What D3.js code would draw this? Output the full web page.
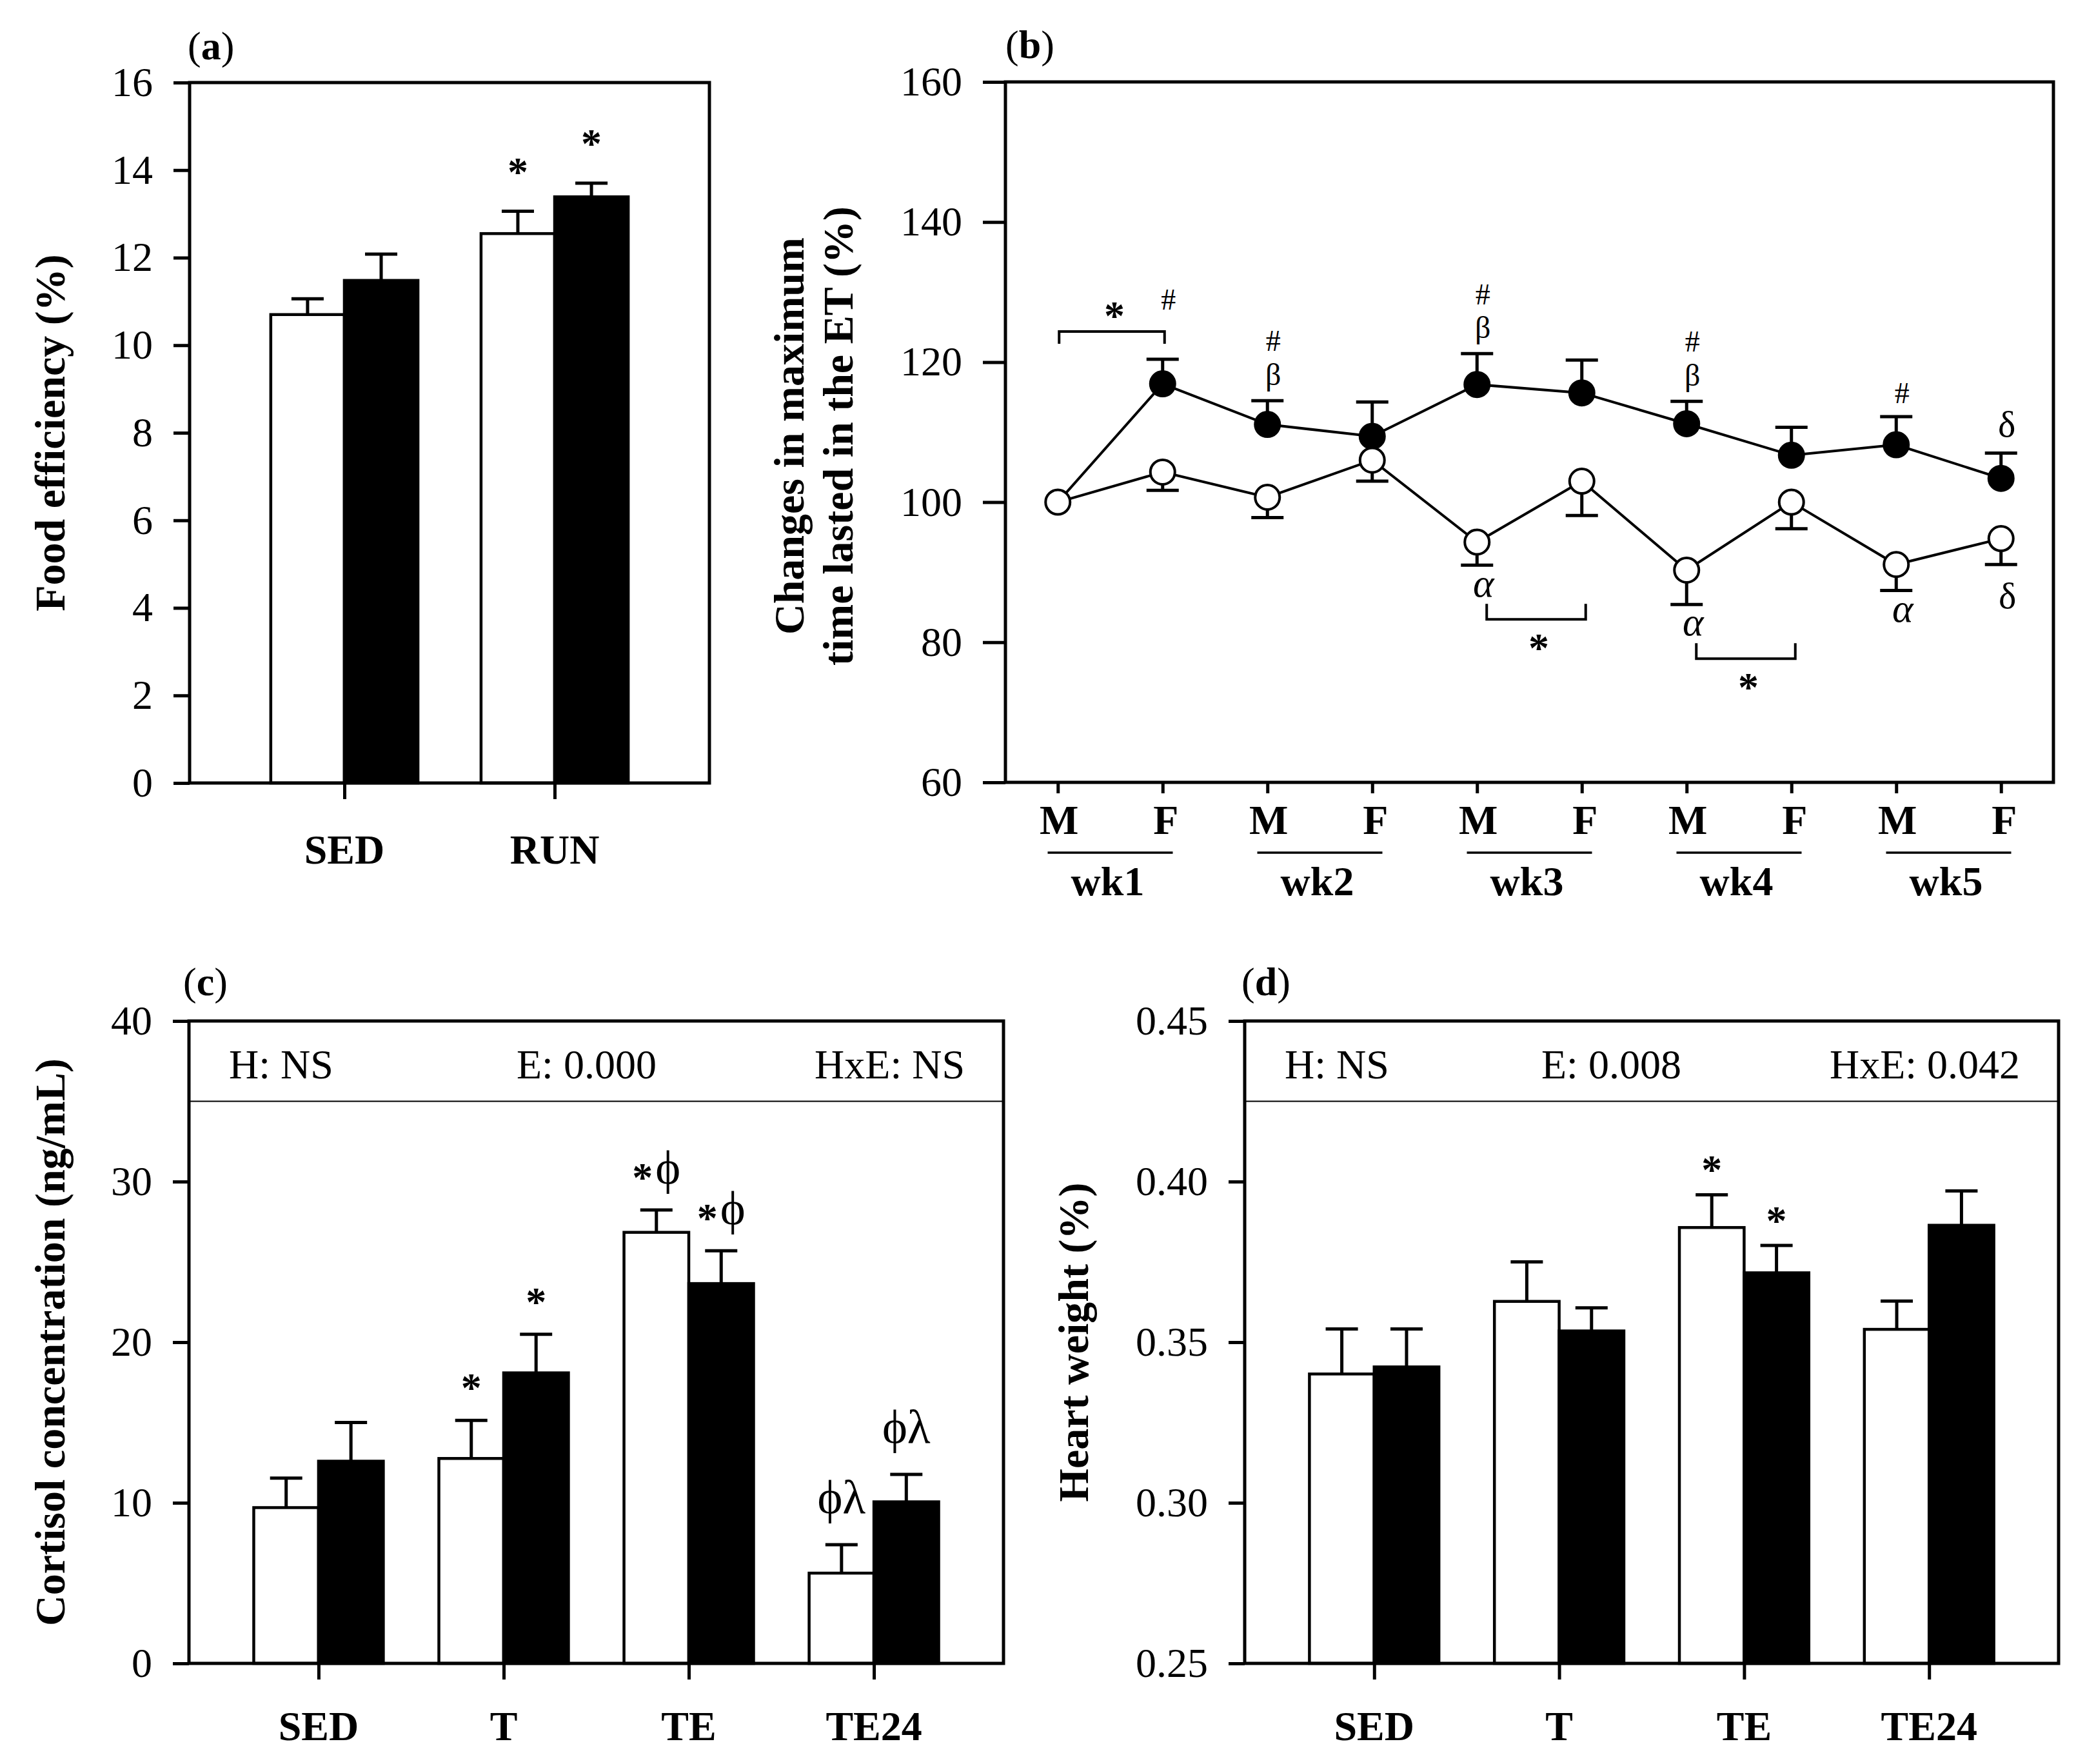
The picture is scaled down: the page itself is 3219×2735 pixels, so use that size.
<!DOCTYPE html>
<html>
<head>
<meta charset="utf-8">
<script src="https://cdn.jsdelivr.net/npm/d3@7"></script>
<style>
html, body { margin: 0; padding: 0; background: #fff; }
svg text { font-family: "Liberation Serif", "Times New Roman", serif; fill: #000; }
</style>
</head>
<body>
<svg id="chart" width="3219" height="2735" xmlns="http://www.w3.org/2000/svg"></svg>
<script>
// ---------------- DATA ----------------
// Panel (a) Food efficiency
const aCategories = ["SED", "RUN"];
const aWhite = [10.70, 12.55];
const aWhiteErr = [0.36, 0.51];
const aBlack = [11.48, 13.39];
const aBlackErr = [0.60, 0.31];
const aTicks = [0, 2, 4, 6, 8, 10, 12, 14, 16];
const aSignif = [
  { cat: "RUN", series: "white", text: "*" },
  { cat: "RUN", series: "black", text: "*" }
];

// Panel (b) Changes in maximum time lasted in the ET
const bTimepoints = ["M", "F", "M", "F", "M", "F", "M", "F", "M", "F"];
const bWeeks = ["wk1", "wk2", "wk3", "wk4", "wk5"];
const bOpen = [100.0, 104.3, 100.7, 106.0, 94.3, 103.0, 90.3, 100.0, 91.1, 94.8];
const bOpenErr = [0, 2.6, 2.9, 3.0, 3.3, 4.9, 4.9, 3.8, 3.7, 3.7];
const bFilled = [100.0, 116.9, 111.1, 109.4, 116.8, 115.6, 111.2, 106.7, 108.2, 103.4];
const bFilledErr = [0, 3.5, 3.4, 4.9, 4.4, 4.7, 3.2, 4.0, 4.0, 3.6];
const bTicks = [60, 80, 100, 120, 140, 160];
const bAboveMarks = [
  { i: 1, text: "#", slot: 2 },
  { i: 2, text: "β", slot: 1 }, { i: 2, text: "#", slot: 2 },
  { i: 4, text: "β", slot: 1 }, { i: 4, text: "#", slot: 2 },
  { i: 6, text: "β", slot: 1 }, { i: 6, text: "#", slot: 2 },
  { i: 8, text: "#", slot: 1 },
  { i: 9, text: "δ", slot: 1 }
];
const bBelowMarks = [
  { i: 4, text: "α" }, { i: 6, text: "α" }, { i: 8, text: "α" }, { i: 9, text: "δ" }
];
const bBrackets = [
  { from: 0, to: 1, side: "above", text: "*" },
  { from: 4, to: 5, side: "below", text: "*" },
  { from: 6, to: 7, side: "below", text: "*" }
];

// Panel (c) Cortisol concentration
const cCategories = ["SED", "T", "TE", "TE24"];
const cWhite = [9.70, 12.76, 26.84, 5.62];
const cWhiteErr = [1.84, 2.37, 1.39, 1.77];
const cBlack = [12.59, 18.09, 23.65, 10.06];
const cBlackErr = [2.41, 2.40, 2.04, 1.71];
const cTicks = [0, 10, 20, 30, 40];
const cStats = ["H: NS", "E: 0.000", "HxE: NS"];
const cSignif = [
  { cat: "T", series: "white", text: "*" },
  { cat: "T", series: "black", text: "*" },
  { cat: "TE", series: "white", text: "*ϕ" },
  { cat: "TE", series: "black", text: "*ϕ" },
  { cat: "TE24", series: "white", text: "ϕλ" },
  { cat: "TE24", series: "black", text: "ϕλ" }
];

// Panel (d) Heart weight
const dCategories = ["SED", "T", "TE", "TE24"];
const dWhite = [0.3401, 0.3627, 0.3857, 0.3540];
const dWhiteErr = [0.0140, 0.0123, 0.0102, 0.0088];
const dBlack = [0.3423, 0.3535, 0.3716, 0.3864];
const dBlackErr = [0.0118, 0.0072, 0.0085, 0.0107];
const dTicks = [0.25, 0.30, 0.35, 0.40, 0.45];
const dStats = ["H: NS", "E: 0.008", "HxE: 0.042"];
const dSignif = [
  { cat: "TE", series: "white", text: "*" },
  { cat: "TE", series: "black", text: "*" }
];

// ---------------- DRAWING ----------------
const FONT = '"Liberation Serif", "Times New Roman", serif';
const SW = 5;
const STAR = 64;
const svg = d3.select("#chart");
svg.append("rect").attr("width", 3219).attr("height", 2735).attr("fill", "#fff");

// visual-centre offsets (fraction of em above baseline)
const K = { "*": 0.47, "#": 0.33, "α": 0.23, "β": 0.24, "δ": 0.35, "ϕ": 0.24, "λ": 0.35 };

function mark(g, cx, cy, text, size, opts = {}) {
  const chars = Array.from(text);
  const others = chars.filter(c => c !== "*");
  const onlyStar = !others.length;
  const fs = onlyStar ? STAR : size;
  let kBase;
  if (onlyStar) kBase = K["*"];
  else if (others.includes("ϕ") || others.includes("β")) kBase = 0.24;
  else kBase = Math.max(...others.map(c => K[c] ?? 0.33));
  const t = g.append("text")
    .attr("x", cx).attr("y", cy + kBase * fs)
    .attr("text-anchor", "middle")
    .attr("font-family", FONT)
    .attr("font-size", fs);
  if (opts.italic) t.attr("font-style", "italic");
  let shift = 0;
  chars.forEach(c => {
    const ts = t.append("tspan").text(c);
    if (c === "*") {
      const d = onlyStar ? 0 : (K["*"] * STAR - kBase * fs);
      if (d - shift !== 0) ts.attr("dy", d - shift);
      ts.attr("font-weight", "bold").attr("font-size", STAR);
      shift = d;
    } else if (shift !== 0) {
      ts.attr("dy", -shift).attr("dx", 4);
      shift = 0;
    }
  });
  return t;
}

function panelLabel(x, y, letter) {
  const t = svg.append("text").attr("x", x).attr("y", y)
    .attr("font-family", FONT).attr("font-size", 62);
  t.append("tspan").text("(");
  t.append("tspan").attr("font-weight", "bold").text(letter);
  t.append("tspan").text(")");
}

function yTitle(x, cy, lines, size) {
  lines.forEach((ln, k) => {
    svg.append("text")
      .attr("transform", `translate(${x + k * 76},${cy}) rotate(-90)`)
      .attr("text-anchor", "middle")
      .attr("dominant-baseline", "central")
      .attr("font-family", FONT)
      .attr("font-weight", "bold")
      .attr("font-size", size)
      .text(ln);
  });
}

function styleAxis(ax, fontSize) {
  ax.select(".domain").remove();
  ax.selectAll(".tick line").attr("stroke", "#000").attr("stroke-width", SW);
  ax.selectAll(".tick text")
    .attr("font-family", FONT).attr("font-size", fontSize).attr("fill", "#000");
}

function barPanel(cfg) {
  const f = cfg.frame;
  const g = svg.append("g");
  const x = d3.scalePoint().domain(cfg.categories).range([f.l, f.r]).padding(cfg.padding);
  const y = d3.scaleLinear().domain(cfg.domain).range([f.b, f.t]);
  const bw = x.step() * 0.35;

  // header band
  if (cfg.stats) {
    g.append("line").attr("x1", f.l).attr("x2", f.r)
      .attr("y1", y(cfg.headerValue)).attr("y2", y(cfg.headerValue))
      .attr("stroke", "#000").attr("stroke-width", 2.2);
    const anchors = ["start", "start", "end"];
    const xs = [f.l + 62, f.l + cfg.midOffset, f.r - 60];
    cfg.stats.forEach((s, k) => {
      g.append("text").attr("x", xs[k]).attr("y", f.t + 89)
        .attr("text-anchor", anchors[k])
        .attr("font-family", FONT).attr("font-size", 64).text(s);
    });
  }

  // bars
  const series = [
    { key: "white", vals: cfg.white, errs: cfg.whiteErr, dx: -bw, fill: "#fff" },
    { key: "black", vals: cfg.black, errs: cfg.blackErr, dx: 0, fill: "#000" }
  ];
  series.forEach(s => {
    g.selectAll(null).data(cfg.categories).enter().append("rect")
      .attr("x", d => x(d) + s.dx)
      .attr("y", (d, i) => y(s.vals[i]))
      .attr("width", bw)
      .attr("height", (d, i) => f.b - y(s.vals[i]))
      .attr("fill", s.fill).attr("stroke", "#000").attr("stroke-width", 4.5);
    // error bars (upward)
    g.selectAll(null).data(cfg.categories).enter().append("path")
      .attr("d", (d, i) => {
        const cx = x(d) + s.dx + bw / 2;
        const y0 = y(s.vals[i]), y1 = y(s.vals[i] + s.errs[i]);
        return `M${cx},${y0}V${y1}M${cx - 25},${y1}H${cx + 25}`;
      })
      .attr("fill", "none").attr("stroke", "#000").attr("stroke-width", SW);
  });

  // frame
  g.append("rect").attr("x", f.l).attr("y", f.t).attr("width", f.r - f.l).attr("height", f.b - f.t)
    .attr("fill", "none").attr("stroke", "#000").attr("stroke-width", SW);

  // axes
  const ya = g.append("g").attr("transform", `translate(${f.l},0)`)
    .call(d3.axisLeft(y).tickValues(cfg.ticks).tickSize(25).tickPadding(32).tickFormat(cfg.fmt));
  styleAxis(ya, 64);
  const xa = g.append("g").attr("transform", `translate(0,${f.b})`)
    .call(d3.axisBottom(x).tickSize(25).tickFormat(""));
  styleAxis(xa, 64);
  g.selectAll(null).data(cfg.categories).enter().append("text")
    .attr("x", d => x(d)).attr("y", f.b + cfg.labelDrop)
    .attr("text-anchor", "middle")
    .attr("font-family", FONT).attr("font-weight", "bold").attr("font-size", 64)
    .text(d => d);

  // significance marks
  cfg.signif.forEach(m => {
    const i = cfg.categories.indexOf(m.cat);
    const s = m.series === "white" ? series[0] : series[1];
    const cx = x(m.cat) + s.dx + bw / 2;
    const top = y(s.vals[i] + s.errs[i]);
    const off = m.text.includes("λ") ? cfg.annotOffset + 8 : cfg.annotOffset;
    mark(g, cx, top - off, m.text, 74);
  });

  yTitle(cfg.titleX, (f.t + f.b) / 2, cfg.title, 66);
}

// ---- Panel (a)
barPanel({
  frame: { l: 294, r: 1100, t: 128, b: 1214 },
  categories: aCategories, white: aWhite, whiteErr: aWhiteErr, black: aBlack, blackErr: aBlackErr,
  domain: [0, 16], ticks: aTicks, fmt: d3.format("d"), padding: 0.736,
  labelDrop: 125, signif: aSignif, annotOffset: 70,
  title: ["Food efficiency (%)"], titleX: 77
});
panelLabel(291, 92, "a");

// ---- Panel (c)
barPanel({
  frame: { l: 293, r: 1556, t: 1583, b: 2579 },
  categories: cCategories, white: cWhite, whiteErr: cWhiteErr, black: cBlack, blackErr: cBlackErr,
  domain: [0, 40], ticks: cTicks, fmt: d3.format("d"), padding: 0.7,
  labelDrop: 119, signif: cSignif, annotOffset: 59,
  stats: cStats, headerValue: 35, midOffset: 508,
  title: ["Cortisol concentration (ng/mL)"], titleX: 77
});
panelLabel(284, 1543, "c");

// ---- Panel (d)
barPanel({
  frame: { l: 1930, r: 3192, t: 1583, b: 2579 },
  categories: dCategories, white: dWhite, whiteErr: dWhiteErr, black: dBlack, blackErr: dBlackErr,
  domain: [0.25, 0.45], ticks: dTicks, fmt: d3.format(".2f"), padding: 0.7,
  labelDrop: 119, signif: dSignif, annotOffset: 47,
  stats: dStats, headerValue: 0.425, midOffset: 460,
  title: ["Heart weight (%)"], titleX: 1664
});
panelLabel(1925, 1543, "d");

// ---- Panel (b)
(function () {
  const f = { l: 1559, r: 3184, t: 127, b: 1213 };
  const g = svg.append("g");
  const idx = d3.range(bTimepoints.length);
  const x = d3.scalePoint().domain(idx).range([f.l, f.r]).padding(0.5);
  const y = d3.scaleLinear().domain([60, 160]).range([f.b, f.t]);
  const R = 19;

  // frame + axes
  g.append("rect").attr("x", f.l).attr("y", f.t).attr("width", f.r - f.l).attr("height", f.b - f.t)
    .attr("fill", "none").attr("stroke", "#000").attr("stroke-width", SW);
  const ya = g.append("g").attr("transform", `translate(${f.l},0)`)
    .call(d3.axisLeft(y).tickValues(bTicks).tickSize(35).tickPadding(32).tickFormat(d3.format("d")));
  styleAxis(ya, 64);
  const xa = g.append("g").attr("transform", `translate(0,${f.b})`)
    .call(d3.axisBottom(x).tickSize(17).tickFormat(""));
  styleAxis(xa, 64);

  g.selectAll(null).data(idx).enter().append("text")
    .attr("x", d => x(d) + (bTimepoints[d] === "F" ? 5 : 2)).attr("y", f.b + 80)
    .attr("text-anchor", "middle")
    .attr("font-family", FONT).attr("font-weight", "bold").attr("font-size", 64)
    .text(d => bTimepoints[d]);
  bWeeks.forEach((w, k) => {
    const cx = (x(2 * k) + x(2 * k + 1)) / 2;
    g.append("line").attr("x1", cx - 97).attr("x2", cx + 97)
      .attr("y1", f.b + 109).attr("y2", f.b + 109)
      .attr("stroke", "#000").attr("stroke-width", 3.5);
    g.append("text").attr("x", cx - 4).attr("y", f.b + 175)
      .attr("text-anchor", "middle")
      .attr("font-family", FONT).attr("font-weight", "bold").attr("font-size", 64)
      .text(w);
  });

  // filled series
  g.selectAll(null).data(idx.filter(i => bFilledErr[i] > 0)).enter().append("path")
    .attr("d", i => {
      const cx = x(i), y0 = y(bFilled[i]), y1 = y(bFilled[i] + bFilledErr[i]);
      return `M${cx},${y0}V${y1}M${cx - 25},${y1}H${cx + 25}`;
    })
    .attr("fill", "none").attr("stroke", "#000").attr("stroke-width", SW);
  g.append("path")
    .attr("d", d3.line().x(i => x(i)).y(i => y(bFilled[i]))(idx))
    .attr("fill", "none").attr("stroke", "#000").attr("stroke-width", 4);
  g.selectAll(null).data(idx.slice(1)).enter().append("circle")
    .attr("cx", i => x(i)).attr("cy", i => y(bFilled[i])).attr("r", R)
    .attr("fill", "#000").attr("stroke", "#000").attr("stroke-width", 4);

  // open series
  g.selectAll(null).data(idx.filter(i => bOpenErr[i] > 0)).enter().append("path")
    .attr("d", i => {
      const cx = x(i), y0 = y(bOpen[i]), y1 = y(bOpen[i] - bOpenErr[i]);
      return `M${cx},${y0}V${y1}M${cx - 25},${y1}H${cx + 25}`;
    })
    .attr("fill", "none").attr("stroke", "#000").attr("stroke-width", SW);
  g.append("path")
    .attr("d", d3.line().x(i => x(i)).y(i => y(bOpen[i]))(idx))
    .attr("fill", "none").attr("stroke", "#000").attr("stroke-width", 4);
  g.selectAll(null).data(idx).enter().append("circle")
    .attr("cx", i => x(i)).attr("cy", i => y(bOpen[i])).attr("r", R)
    .attr("fill", "#fff").attr("stroke", "#000").attr("stroke-width", 4);

  // marks above filled error caps
  const sizes = { "#": 46, "β": 48, "δ": 58, "α": 62 };
  bAboveMarks.forEach(m => {
    const cap = y(bFilled[m.i] + bFilledErr[m.i]);
    let off = m.slot === 1 ? 36 : 92;
    if (m.text === "δ") off = 46;
    mark(g, x(m.i) + 9, cap - off, m.text, sizes[m.text]);
  });
  // marks below open error caps
  bBelowMarks.forEach(m => {
    const cap = y(bOpen[m.i] - bOpenErr[m.i]);
    const off = m.text === "δ" ? 47 : 34;
    mark(g, x(m.i) + 10, cap + off, m.text, sizes[m.text], { italic: m.text === "α" });
  });
  // brackets
  bBrackets.forEach(b => {
    let x0, x1, yLine, yLeg, starY;
    if (b.side === "above") {
      const cap = Math.min(y(bFilled[b.from] + bFilledErr[b.from]), y(bFilled[b.to] + bFilledErr[b.to]));
      x0 = x(b.from) + 2; x1 = x(b.to) + 3;
      yLine = cap - 43; yLeg = yLine + 19; starY = yLine - 33;
    } else {
      const cap = y(bOpen[b.from] - bOpenErr[b.from]);
      x0 = x(b.from) + 15; x1 = x(b.to) + 6;
      yLeg = cap + 60; yLine = yLeg + 24; starY = yLine + 36;
    }
    g.append("path").attr("d", `M${x0},${yLeg}V${yLine}H${x1}V${yLeg}`)
      .attr("fill", "none").attr("stroke", "#000").attr("stroke-width", 4);
    mark(g, (x0 + x1) / 2 + 4, starY, b.text, STAR);
  });

  // title
  yTitle(1223, (f.t + f.b) / 2 + 6, ["Changes in maximum", "time lasted in the ET (%)"], 66);
  panelLabel(1559, 90, "b");
})();
</script>
</body>
</html>
